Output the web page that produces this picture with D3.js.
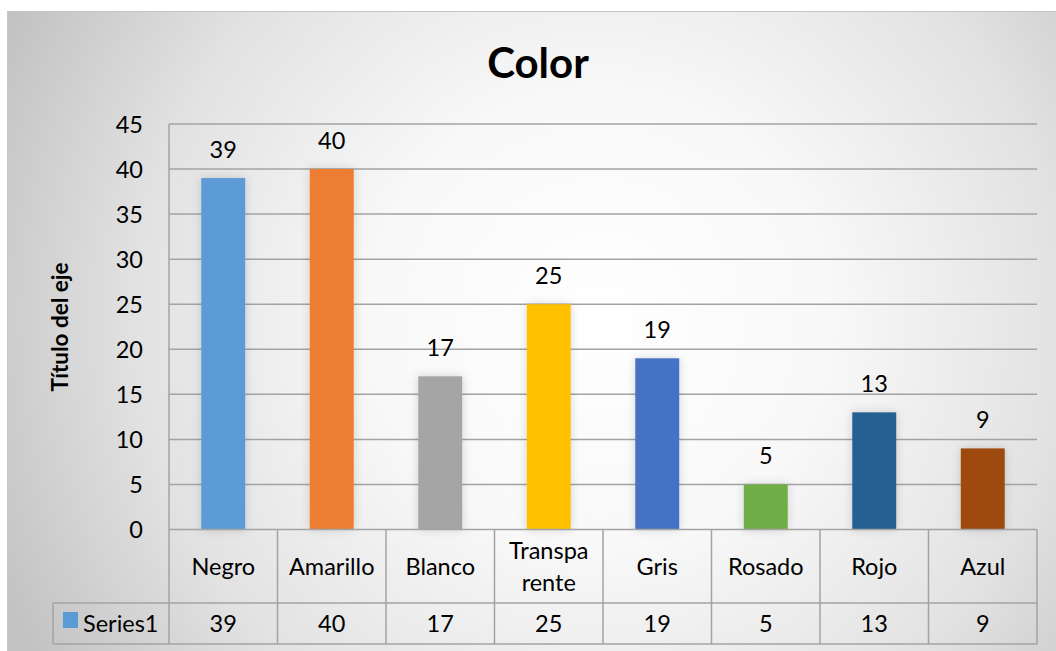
<!DOCTYPE html>
<html>
<head>
<meta charset="utf-8">
<script src="https://cdn.jsdelivr.net/npm/d3@7"></script>
<style>
  html, body { margin: 0; padding: 0; background: #ffffff; }
  svg { display: block; }
  text { font-family: Lato, "Open Sans", sans-serif; fill: #000; }
</style>
</head>
<body>
<svg id="chart" width="1056" height="651"></svg>
<script>
const categories = ["Negro", "Amarillo", "Blanco", "Transparente", "Gris", "Rosado", "Rojo", "Azul"];
const categoryLines = [["Negro"], ["Amarillo"], ["Blanco"], ["Transpa", "rente"], ["Gris"], ["Rosado"], ["Rojo"], ["Azul"]];
const values = [39, 40, 17, 25, 19, 5, 13, 9];
const barColors = ["#5B9BD5", "#ED7D31", "#A5A5A5", "#FFC000", "#4472C4", "#70AD47", "#255E91", "#9E480E"];
const yTicks = [0, 5, 10, 15, 20, 25, 30, 35, 40, 45];
const seriesName = "Series1";
const chartTitle = "Color";
const yAxisTitle = "Título del eje";

const svg = d3.select("#chart");
const W = 1056, H = 651;
const fs = 23.5;

const defs = svg.append("defs");
const grad = defs.append("radialGradient")
  .attr("id", "bg").attr("gradientUnits", "userSpaceOnUse")
  .attr("cx", 600).attr("cy", 320).attr("r", 660)
  .attr("fx", 600).attr("fy", 320);
grad.append("stop").attr("offset", "0").attr("stop-color", "#ffffff");
grad.append("stop").attr("offset", "0.35").attr("stop-color", "#f8f8f8");
grad.append("stop").attr("offset", "0.7").attr("stop-color", "#e2e2e2");
grad.append("stop").attr("offset", "1").attr("stop-color", "#c2c2c2");

const shadow = defs.append("filter").attr("id", "glow")
  .attr("x", "-60%").attr("y", "-20%").attr("width", "220%").attr("height", "140%");
shadow.append("feDropShadow").attr("dx", 0).attr("dy", 0)
  .attr("stdDeviation", 5).attr("flood-color", "#000").attr("flood-opacity", 0.16);

// chart background
svg.append("rect").attr("x", 7).attr("y", 11).attr("width", W - 7).attr("height", H - 11)
  .attr("fill", "url(#bg)");
svg.append("line").attr("x1", 7).attr("x2", W).attr("y1", 11.5).attr("y2", 11.5)
  .attr("stroke", "#c6c6c6").attr("stroke-width", 1);
svg.append("line").attr("x1", 7.5).attr("x2", 7.5).attr("y1", 11).attr("y2", H)
  .attr("stroke", "#c6c6c6").attr("stroke-width", 1);

const plotLeft = 169, plotRight = 1037, plotTop = 124, plotBottom = 529.5;
const tableLeft = 53, catRowBottom = 603, serRowBottom = 644;

const x = d3.scaleBand().domain(categories).range([plotLeft, plotRight]).padding(0);
const y = d3.scaleLinear().domain([0, 45]).range([plotBottom, plotTop]);

const gridColor = "#a3a3a3";

// gridlines
svg.append("g").selectAll("line").data(yTicks.filter(t => t > 0)).join("line")
  .attr("x1", plotLeft).attr("x2", plotRight)
  .attr("y1", d => y(d)).attr("y2", d => y(d))
  .attr("stroke", gridColor).attr("stroke-width", 1.5);

// y axis labels
const yAxis = d3.axisLeft(y).tickValues(yTicks).tickSize(0).tickPadding(0);
const yg = svg.append("g").attr("transform", `translate(${plotLeft - 26},0)`).call(yAxis);
yg.select(".domain").remove();
yg.selectAll("text").attr("font-family", "Lato, sans-serif").attr("font-size", fs)
  .attr("fill", "#000").attr("dy", "0.36em");

// bars
const barW = x.bandwidth() * 0.405;
svg.append("g").selectAll("rect").data(values).join("rect")
  .attr("x", (d, i) => x(categories[i]) + (x.bandwidth() - barW) / 2)
  .attr("y", d => y(d))
  .attr("width", barW)
  .attr("height", d => y(0) - y(d))
  .attr("fill", (d, i) => barColors[i])
  .attr("filter", "url(#glow)");

// data labels
svg.append("g").selectAll("text").data(values).join("text")
  .attr("x", (d, i) => x(categories[i]) + x.bandwidth() / 2)
  .attr("y", d => y(d) - 20)
  .attr("text-anchor", "middle")
  .attr("font-size", fs)
  .text(d => d);

// table lines
const tl = svg.append("g").attr("stroke", gridColor).attr("stroke-width", 1.5);
tl.append("line").attr("x1", plotLeft).attr("x2", plotRight).attr("y1", plotBottom).attr("y2", plotBottom);
tl.append("line").attr("x1", tableLeft).attr("x2", plotRight).attr("y1", catRowBottom).attr("y2", catRowBottom);
tl.append("line").attr("x1", tableLeft).attr("x2", plotRight).attr("y1", serRowBottom).attr("y2", serRowBottom);
tl.append("line").attr("x1", plotLeft).attr("x2", plotLeft).attr("y1", plotTop).attr("y2", serRowBottom);
tl.append("line").attr("x1", tableLeft).attr("x2", tableLeft).attr("y1", catRowBottom).attr("y2", serRowBottom);
tl.selectAll(".vb").data(categories.slice(1)).join("line").attr("class", "vb")
  .attr("x1", d => x(d)).attr("x2", d => x(d))
  .attr("y1", plotBottom).attr("y2", serRowBottom);
tl.append("line").attr("x1", plotRight).attr("x2", plotRight).attr("y1", plotBottom).attr("y2", serRowBottom);

// category labels
const catG = svg.append("g").selectAll("text").data(categoryLines).join("text")
  .attr("text-anchor", "middle")
  .attr("font-size", fs);
catG.each(function(lines, i) {
  const t = d3.select(this);
  const cx = x(categories[i]) + x.bandwidth() / 2;
  const lh = 32;
  const base = 575 - (lines.length - 1) * lh / 2;
  lines.forEach((ln, j) => {
    t.append("tspan").attr("x", cx).attr("y", base + j * lh).text(ln);
  });
});

// series row values
svg.append("g").selectAll("text").data(values).join("text")
  .attr("x", (d, i) => x(categories[i]) + x.bandwidth() / 2)
  .attr("y", 632)
  .attr("text-anchor", "middle")
  .attr("font-size", fs)
  .text(d => d);

// legend key
svg.append("rect").attr("x", 63).attr("y", 612).attr("width", 15).attr("height", 16)
  .attr("fill", barColors[0]);
svg.append("text").attr("x", 83).attr("y", 632).attr("font-size", fs).text(seriesName);

// title
svg.append("text").attr("x", 538).attr("y", 78).attr("text-anchor", "middle")
  .attr("font-size", 42).attr("font-weight", "bold").text(chartTitle);

// y axis title
svg.append("text")
  .attr("transform", `translate(68,327) rotate(-90)`)
  .attr("text-anchor", "middle")
  .attr("font-size", 22.5).attr("font-weight", "bold")
  .text(yAxisTitle);
</script>
</body>
</html>
